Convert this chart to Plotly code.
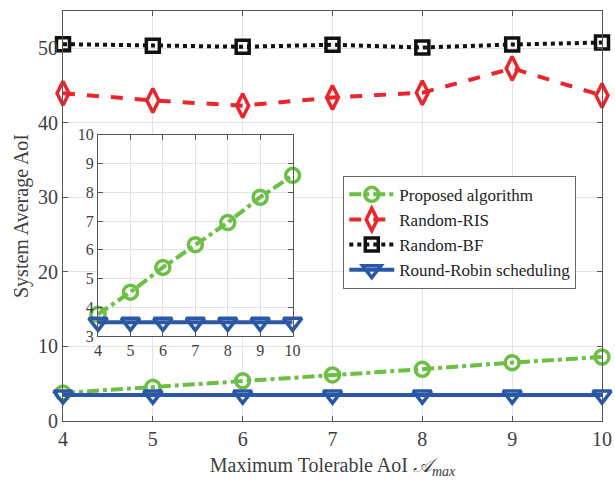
import plotly.graph_objects as go

x_vals = [4, 5, 6, 7, 8, 9, 10]
proposed = [3.76, 4.53, 5.39, 6.18, 6.95, 7.83, 8.59]
random_ris = [43.96, 43.0, 42.3, 43.4, 44.04, 47.3, 43.66]
random_bf = [50.55, 50.34, 50.2, 50.47, 50.1, 50.5, 50.77]
round_robin = [3.48, 3.48, 3.48, 3.48, 3.48, 3.48, 3.48]

x_ticks = [4, 5, 6, 7, 8, 9, 10]
y_ticks = [0, 10, 20, 30, 40, 50]
inset_y_ticks = [3, 4, 5, 6, 7, 8, 9, 10]

GREEN = "#6DBE45"
RED = "#E8262D"
BLACK = "#111111"
BLUE = "#2B58A6"
FONT = "Liberation Serif"

series = [
    ("Proposed algorithm", proposed, GREEN, "dashdot", "circle-open", 14),
    ("Random-RIS", random_ris, RED, "dash", "diamond-tall-open", 17),
    ("Random-BF", random_bf, BLACK, "dot", "square-open", 13),
    ("Round-Robin scheduling", round_robin, BLUE, "solid", "triangle-down-open", 16),
]

fig = go.Figure()
for name, ys, col, dash, sym, sz in series:
    fig.add_trace(go.Scatter(
        x=x_vals, y=ys, name=name, mode="lines+markers",
        line=dict(color=col, width=4, dash=dash),
        marker=dict(symbol=sym, size=sz, color=col, line=dict(color=col, width=3.5)),
        xaxis="x", yaxis="y", cliponaxis=False,
    ))

# inset: only proposed and round robin
for name, ys, col, dash, sym, sz in [series[0], series[3]]:
    fig.add_trace(go.Scatter(
        x=x_vals, y=ys, name=name, mode="lines+markers", showlegend=False,
        line=dict(color=col, width=4, dash=dash),
        marker=dict(symbol=sym, size=sz, color=col, line=dict(color=col, width=3.5)),
        xaxis="x2", yaxis="y2", cliponaxis=False,
    ))

axis_common = dict(
    showline=True, linecolor="#555555", linewidth=1, mirror="ticks",
    ticks="inside", ticklen=5, tickcolor="#555555",
    showgrid=True, gridcolor="#E3E3E3", gridwidth=1, zeroline=False,
)

fig.update_layout(
    width=615, height=481,
    margin=dict(l=63, r=9, t=3, b=60),
    paper_bgcolor="white", plot_bgcolor="white",
    font=dict(family=FONT, color="#333333", size=20),
    xaxis=dict(
        **axis_common, domain=[0, 1], range=[4, 10],
        tickvals=x_ticks, tickfont=dict(size=20, family=FONT, color="#404040"),
        title=dict(text="Maximum Tolerable AoI <i>𝒜<sub>max</sub></i>",
                   font=dict(size=20, family=FONT, color="#404040"), standoff=8),
    ),
    yaxis=dict(
        **axis_common, domain=[0, 1], range=[0, 55],
        tickvals=y_ticks, tickfont=dict(size=20, family=FONT, color="#404040"),
        title=dict(text="System Average AoI",
                   font=dict(size=20, family=FONT, color="#404040"), standoff=4),
    ),
    xaxis2=dict(
        **axis_common, domain=[0.065, 0.426], range=[4, 10], anchor="y2",
        tickvals=x_ticks, tickfont=dict(size=16, family=FONT, color="#404040"),
    ),
    yaxis2=dict(
        **axis_common, domain=[0.207, 0.698], range=[3, 10], anchor="x2",
        tickvals=inset_y_ticks, tickfont=dict(size=16, family=FONT, color="#404040"),
    ),
    legend=dict(
        x=0.52, y=0.598, xanchor="left", yanchor="top",
        bgcolor="white", bordercolor="#666666", borderwidth=1,
        font=dict(size=17, family=FONT, color="#222222"),
        itemwidth=45, tracegroupgap=0,
    ),
    showlegend=True,
)

fig.write_html("out.html")
